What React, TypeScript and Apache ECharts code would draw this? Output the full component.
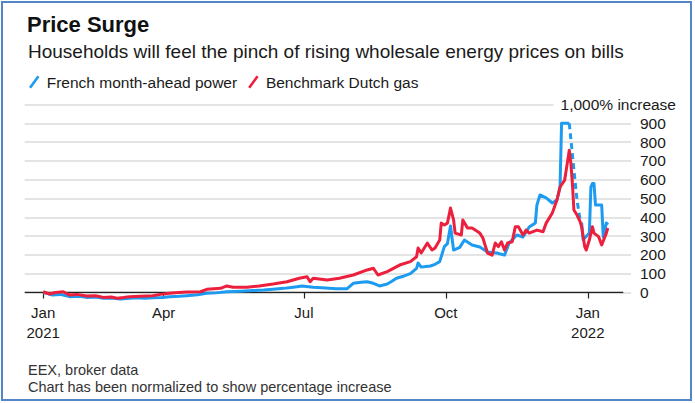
import React, { useEffect, useRef } from "react";
import * as echarts from "echarts";

const TITLE = "Price Surge";
const SUBTITLE = "Households will feel the pinch of rising wholesale energy prices on bills";
const SERIES_NAMES = ["French month-ahead power", "Benchmark Dutch gas"];
const SOURCE_LINES = ["EEX, broker data", "Chart has been normalized to show percentage increase"];

// x values are days since 1 Jan 2021
const xTickDays = [12, 90, 181, 273, 365];
const xTickLabels = ["Jan\n2021", "Apr", "Jul", "Oct", "Jan\n2022"];
const yTopValue = 1000;
const yTopLabel = "1,000% increase";
const baselineSpan: [number, number][] = [[0, 0], [388, 0]];

// French month-ahead power, % increase
const frenchPower: [number, number][] = [
  [12, 0], [15, -6], [18, -13], [23, -10], [29, -22], [35, -20], [40, -26], [46, -24],
  [51, -31], [56, -29], [62, -35], [68, -30], [73, -28], [78, -31], [83, -28], [89, -26],
  [94, -22], [100, -20], [105, -17], [112, -12], [118, -4], [124, -2], [131, 4], [140, 7],
  [148, 10], [155, 13], [161, 17], [168, 22], [174, 28], [180, 35], [184, 31],
  [187, 28], [195, 24], [202, 20], [209, 20], [213, 49], [218, 54], [222, 57], [226, 49], [230, 35], [235, 45],
  [238, 60], [241, 76], [246, 88], [250, 100], [254, 128], [255, 157], [257, 135], [260, 138], [263, 141], [266, 150], [269, 164],
  [272, 244], [274, 260], [276, 354], [278, 226], [282, 240], [285, 279], [290, 253],
  [295, 242], [300, 215], [306, 210], [311, 199], [314, 263], [319, 306], [323, 295],
  [327, 348], [331, 370], [332, 465], [334, 519], [338, 503], [342, 476], [345, 492],
  [347, 561], [348, 900], [353, 900],
];
const frenchPowerGap: [number, number][] = [
  [353, 900], [356, 651], [358, 492], [360, 386], [361, 370],
];
const frenchPowerEnd: [number, number][] = [
  [361, 370], [362, 280], [366, 316], [367, 561], [368, 580], [369, 580], [370, 465],
  [374, 465], [375, 297], [377, 370], [378, 360],
];

// Benchmark Dutch gas, % increase
const dutchGas: [number, number][] = [
  [12, 4], [16, -8], [20, 0], [25, 4], [29, -13], [34, -10], [40, -19], [46, -17], [51, -26], [56, -24], [60, -31], [64, -27], [68, -22],
  [75, -20], [83, -17], [88, -10], [94, -4], [100, 0], [105, 3], [114, 4], [118, 17], [127, 22], [131, 35], [135, 28],
  [144, 28], [152, 35], [161, 45], [170, 57], [178, 76], [183, 84], [185, 57], [187, 76],
  [196, 66], [204, 76], [213, 93], [222, 120], [226, 129], [229, 93], [235, 111],
  [243, 146], [250, 164], [254, 190], [255, 237], [257, 210], [261, 263], [264, 226],
  [266, 237], [269, 279], [270, 369], [272, 359], [274, 369], [276, 449], [278, 386],
  [279, 316], [283, 306], [284, 386], [287, 343], [290, 343], [295, 316], [297, 290],
  [300, 210], [303, 199], [305, 263], [307, 244], [309, 270], [311, 226], [313, 263],
  [316, 270], [318, 350], [320, 350], [323, 306], [325, 332], [327, 316], [332, 332],
  [336, 323], [338, 369], [342, 423], [345, 492], [347, 561], [350, 598], [351, 651],
  [353, 757], [354, 689], [355, 582], [356, 439], [358, 412], [360, 377], [361, 350],
  [363, 244], [364, 226], [366, 279], [368, 350], [369, 316], [372, 297], [374, 253],
  [377, 316], [378, 343],
];

const BLUE = "#1d9bf0";
const RED = "#ec1f3d";
const FONT = "'Liberation Sans', Arial, sans-serif";
const TEXT = "#1a1a1a";

const ICON = "path://M0,11 L8,0 L10,1.4 L2,12.4 Z";

export default function App() {
  const ref = useRef<HTMLDivElement>(null);
  useEffect(() => {
    if (!ref.current) return;
    const chart = echarts.init(ref.current, undefined, { renderer: "svg" });
    const lineSeries = (data: [number, number][], color: string, name: string, dashed = false, z = 2) => ({
      type: "line",
      name,
      data,
      showSymbol: false,
      symbol: "none",
      clip: false,
      z,
      lineStyle: { color, width: 3, type: dashed ? [6, 4] : "solid", join: "round" },
      itemStyle: { color },
    });
    chart.setOption({
      animation: false,
      backgroundColor: "#ffffff",
      textStyle: { fontFamily: FONT },
      title: [
        { text: TITLE, left: 22, top: 8, textStyle: { fontSize: 22, fontWeight: "bold", color: "#111", fontFamily: FONT } },
        { text: SUBTITLE, left: 23, top: 37, textStyle: { fontSize: 19, fontWeight: "normal", color: TEXT, fontFamily: FONT } },
        { text: SOURCE_LINES[0], left: 23, top: 357, textStyle: { fontSize: 14.5, fontWeight: "normal", color: "#333", fontFamily: FONT } },
        { text: SOURCE_LINES[1], left: 23, top: 374, textStyle: { fontSize: 14.5, fontWeight: "normal", color: "#333", fontFamily: FONT } },
      ],
      legend: {
        left: 24,
        top: 69,
        itemWidth: 11,
        itemHeight: 13,
        itemGap: 11,
        selectedMode: false,
        textStyle: { fontSize: 15.5, color: TEXT, fontFamily: FONT, padding: [0, 0, 0, 2] },
        data: [
          { name: SERIES_NAMES[0], icon: ICON, itemStyle: { color: BLUE } },
          { name: SERIES_NAMES[1], icon: ICON, itemStyle: { color: RED } },
        ],
      },
      grid: { left: 24.7, right: 64, top: 104.5, bottom: 110.5, containLabel: false },
      xAxis: {
        type: "value",
        min: 0,
        max: 393,
        axisLine: { show: false },
        splitLine: { show: false },
        axisTick: { show: true, customValues: xTickDays, length: 6, lineStyle: { color: "#222", width: 1.2 } },
        axisLabel: {
          customValues: xTickDays,
          formatter: (v: number) => {
            const i = xTickDays.indexOf(Math.round(v));
            return i >= 0 ? xTickLabels[i] : "";
          },
          margin: 10,
          fontSize: 15,
          lineHeight: 20,
          color: TEXT,
          fontFamily: FONT,
        },
      },
      yAxis: [
        {
          type: "value",
          position: "right",
          min: 0,
          max: yTopValue,
          interval: 100,
          axisLine: { show: false },
          axisTick: { show: false },
          splitLine: { show: true, lineStyle: { color: "#e4e4e4", width: 2 } },
          axisLabel: {
            formatter: (v: number) => (v === yTopValue ? "" : String(v)),
            margin: 9,
            fontSize: 15.5,
            color: TEXT,
            fontFamily: FONT,
          },
        },
        {
          type: "value",
          position: "right",
          min: 0,
          max: yTopValue,
          interval: yTopValue,
          axisLine: { show: false },
          axisTick: { show: false },
          splitLine: { show: false },
          axisLabel: {
            formatter: (v: number) => (v === yTopValue ? "{w|" + yTopLabel + "}" : ""),
            align: "right",
            margin: 48,
            rich: {
              w: { fontSize: 15.5, color: TEXT, fontFamily: FONT, backgroundColor: "#ffffff", padding: [2, 3, 2, 7] },
            },
          },
        },
      ],
      series: [
        {
          type: "line",
          name: "baseline",
          data: baselineSpan,
          showSymbol: false,
          symbol: "none",
          silent: true,
          z: 1,
          lineStyle: { color: "#222", width: 1.5 },
        },
        lineSeries(frenchPower, BLUE, SERIES_NAMES[0]),
        lineSeries(frenchPowerGap, BLUE, SERIES_NAMES[0], true),
        lineSeries(frenchPowerEnd, BLUE, SERIES_NAMES[0]),
        lineSeries(dutchGas, RED, SERIES_NAMES[1], false, 3),
      ],
      graphic: [
        {
          type: "rect",
          shape: { x: 2, y: 2, width: 689, height: 398 },
          style: { fill: "none", stroke: "#5286c8", lineWidth: 2 },
          silent: true,
          z: 100,
        },
      ],
    });
    return () => chart.dispose();
  }, []);
  return <div ref={ref} style={{ position: "fixed", left: 0, top: 0, width: 695, height: 403 }} />;
}
